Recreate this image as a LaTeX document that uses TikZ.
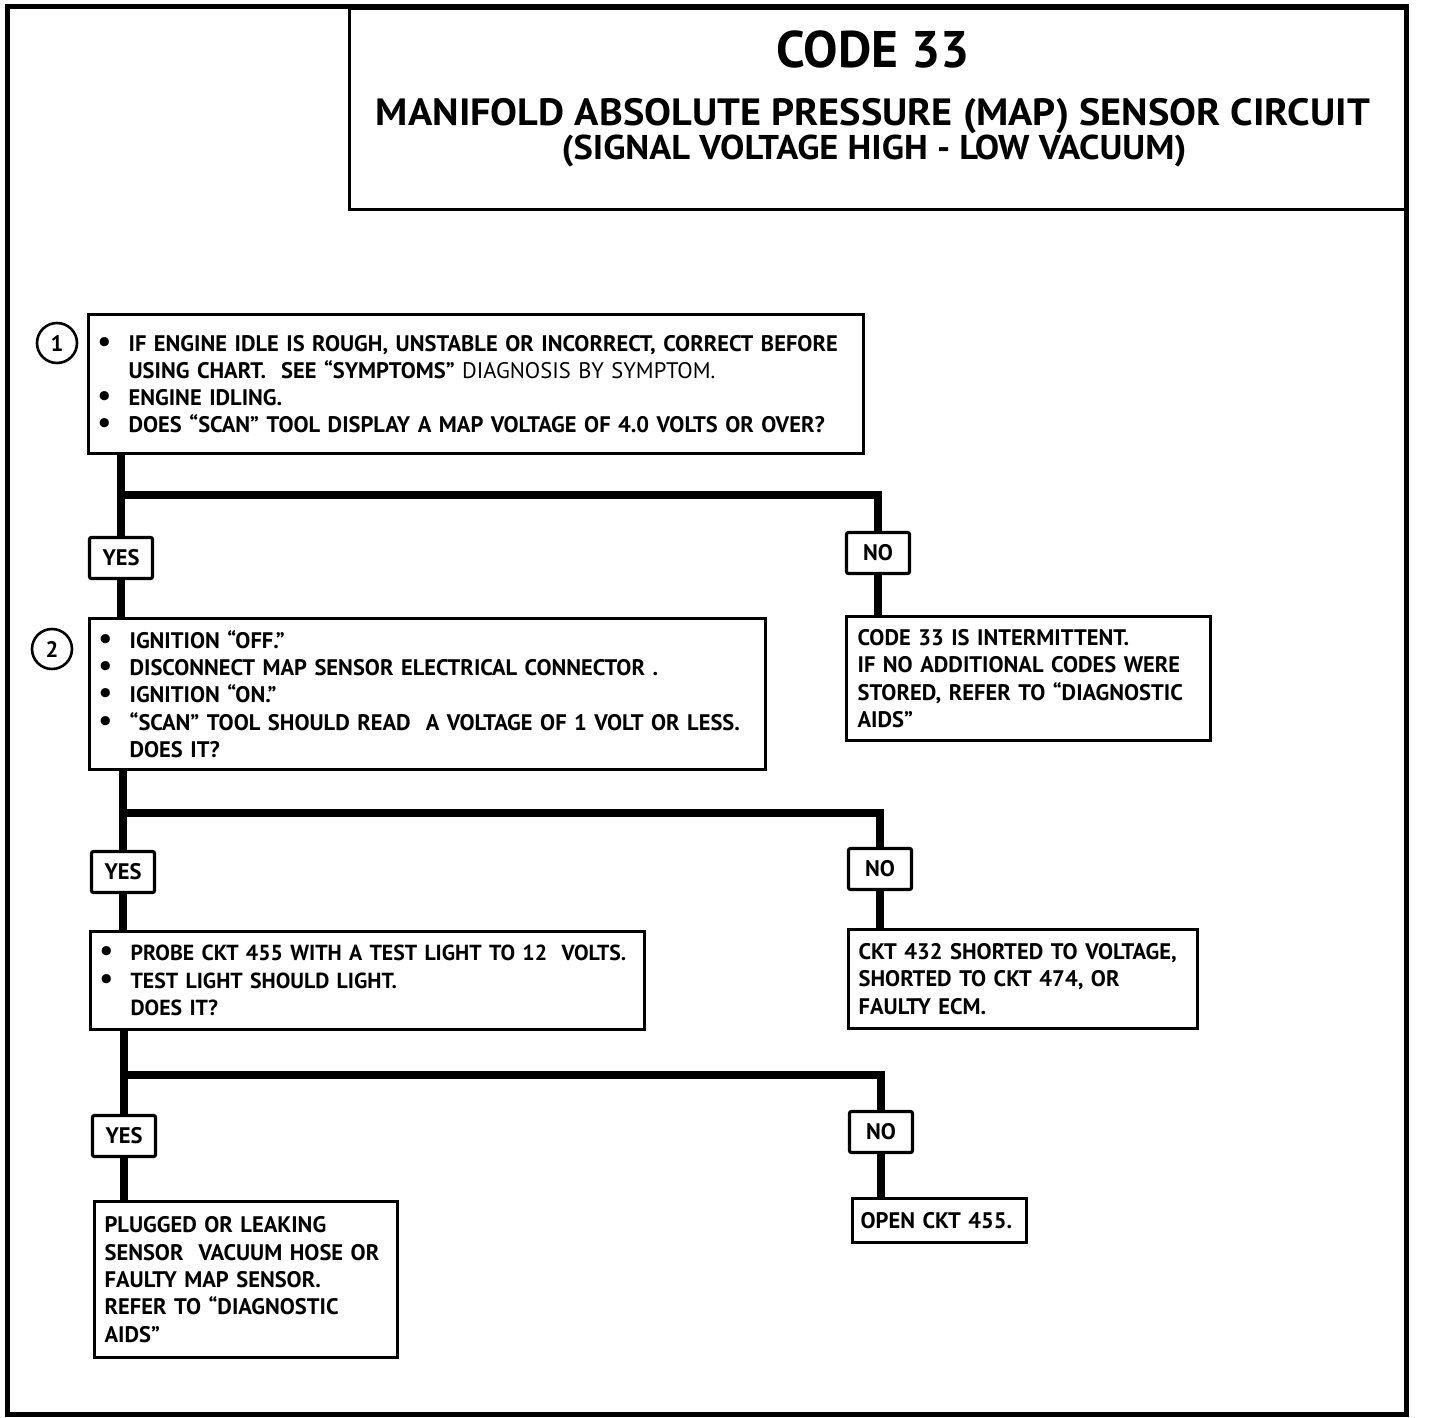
\documentclass[tikz,border=0pt]{standalone}
\usepackage{fontspec}
\setmainfont{PT Sans}
\newfontfamily\widefont[FakeStretch=1.06]{PT Sans}
\usetikzlibrary{positioning}

\newcommand{\bodyfont}{\fontsize{22.5}{27.3}\selectfont\bfseries}
\newcommand{\bul}{\makebox[32pt][l]{\hspace{1pt}{\fontsize{30}{27.3}\selectfont\textbullet}}}
\newcommand{\ind}{\hspace*{32pt}}

\begin{document}
\begin{tikzpicture}[x=1pt, y=-1pt,
    frame/.style={line width=5pt},
    stepbox/.style={draw, line width=3.2pt, anchor=north west, align=left, inner xsep=8pt, inner ysep=0pt, font=\bodyfont},
    ansbox/.style={draw, line width=3.2pt, rounded corners=2pt, minimum width=63pt, minimum height=41pt, inner sep=0pt, font=\bodyfont},
    numcircle/.style={draw, circle, line width=2.6pt, minimum size=40pt, inner sep=0pt, font=\bodyfont},
    trunk/.style={line width=7.5pt}
]
\useasboundingbox (0,0) rectangle (1440,1418);
\draw[frame] (7,7) rectangle (1406,1414);

% heading
\node[draw, line width=3pt, anchor=north west, minimum width=1056pt, minimum height=201pt, inner sep=0pt] (title) at (348,7) {};
\node[anchor=base, font=\fontsize{51.5}{51.5}\selectfont\bfseries] (code) at (873,68) {CODE 33};
\node[anchor=base, font=\widefont\fontsize{38}{38}\selectfont\bfseries] (circuit) at (873,125) {MANIFOLD ABSOLUTE PRESSURE (MAP) SENSOR CIRCUIT};
\node[anchor=base, font=\widefont\fontsize{34.4}{34.4}\selectfont\bfseries] (signal) at (874,159) {(SIGNAL VOLTAGE HIGH - LOW VACUUM)};

% step 1
\node[numcircle] (n1) at (57,343) {1};
\node[stepbox, minimum width=775pt, minimum height=139pt, text width=759pt] (q1) at (87,313) {%
\mbox{\bul IF ENGINE IDLE IS ROUGH, UNSTABLE OR INCORRECT, CORRECT BEFORE}\\
\ind USING CHART.\ \ SEE “SYMPTOMS” {\mdseries DIAGNOSIS BY SYMPTOM.}\\
\bul ENGINE IDLING.\\
\mbox{\bul DOES “SCAN” TOOL DISPLAY A MAP VOLTAGE OF 4.0 VOLTS OR OVER?}};
\node[ansbox] (yes1) at (121,558) {YES};
\node[ansbox] (no1) at (878,553) {NO};
\node[stepbox, inner xsep=11pt, minimum width=364pt, minimum height=124pt, text width=342pt] (int) at (845,615) {%
CODE 33 IS INTERMITTENT.\\
IF NO ADDITIONAL CODES WERE\\
STORED, REFER TO “DIAGNOSTIC\\
AIDS”};

% step 2
\node[numcircle] (n2) at (52,649) {2};
\node[stepbox, minimum width=676pt, minimum height=151pt, text width=660pt] (q2) at (88,617) {%
\bul IGNITION “OFF.”\\
\bul DISCONNECT MAP SENSOR ELECTRICAL CONNECTOR .\\
\bul IGNITION “ON.”\\
\mbox{\bul “SCAN” TOOL SHOULD READ\ \ A VOLTAGE OF 1 VOLT OR LESS.}\\
\ind DOES IT?};
\node[ansbox] (yes2) at (123,872) {YES};
\node[ansbox] (no2) at (880,869) {NO};
\node[stepbox, inner xsep=10pt, minimum width=349pt, minimum height=99pt, text width=329pt] (short) at (847,928) {%
\mbox{CKT 432 SHORTED TO VOLTAGE,}\\
SHORTED TO CKT 474, OR\\
FAULTY ECM.};

% step 3
\node[stepbox, font=\fontsize{21.8}{27.3}\selectfont\bfseries, minimum width=554pt, minimum height=98pt, text width=538pt] (q3) at (89,930) {%
\mbox{\bul PROBE CKT 455 WITH A TEST LIGHT TO 12\ \ VOLTS.}\\
\bul TEST LIGHT SHOULD LIGHT.\\
\ind DOES IT?};
\node[ansbox] (yes3) at (124,1136) {YES};
\node[ansbox] (no3) at (881,1132) {NO};
\node[stepbox, inner xsep=10pt, minimum width=303pt, minimum height=156pt, text width=283pt] (hose) at (93,1200) {%
PLUGGED OR LEAKING\\
\mbox{SENSOR\ \ VACUUM HOSE OR}\\
FAULTY MAP SENSOR.\\
REFER TO “DIAGNOSTIC\\
AIDS”};
\node[stepbox, minimum width=174pt, minimum height=44pt, text width=158pt] (open) at (851,1197) {\mbox{OPEN CKT 455.}};

% connectors
\coordinate (b1) at (yes1 |- 0,495);
\coordinate (b2) at (yes2 |- 0,813);
\coordinate (b3) at (yes3 |- 0,1075);
\draw[trunk] (q1.south -| yes1) -- (yes1.north);
\draw[trunk] (b1) -| (no1.north);
\draw[trunk] (yes1.south) -- (yes1.south |- q2.north);
\draw[trunk] (no1.south) -- (no1.south |- int.north);
\draw[trunk] (q2.south -| yes2) -- (yes2.north);
\draw[trunk] (b2) -| (no2.north);
\draw[trunk] (yes2.south) -- (yes2.south |- q3.north);
\draw[trunk] (no2.south) -- (no2.south |- short.north);
\draw[trunk] (q3.south -| yes3) -- (yes3.north);
\draw[trunk] (b3) -| (no3.north);
\draw[trunk] (yes3.south) -- (yes3.south |- hose.north);
\draw[trunk] (no3.south) -- (no3.south |- open.north);
\end{tikzpicture}
\end{document}
